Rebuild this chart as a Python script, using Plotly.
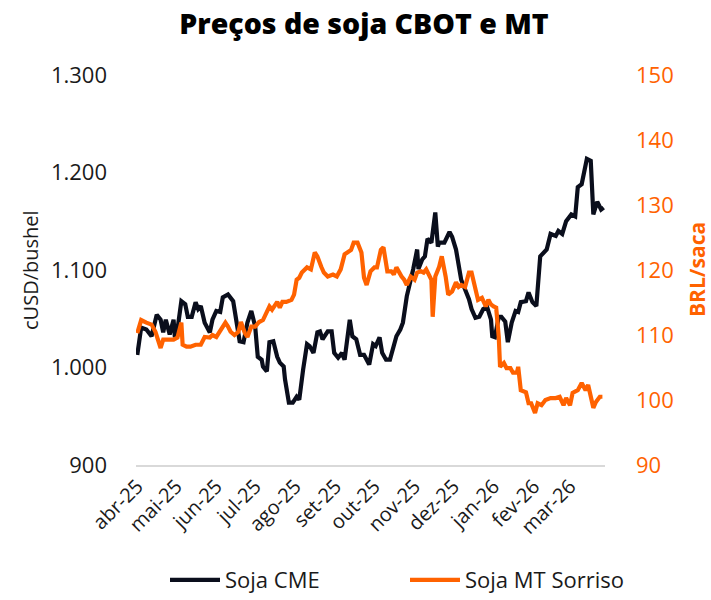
import plotly.graph_objects as go

# ---- data ----
cme_dates = [
    "2025-04-01","2025-04-04","2025-04-08","2025-04-12","2025-04-16","2025-04-19","2025-04-21","2025-04-23",
    "2025-04-26","2025-04-29","2025-04-30","2025-05-02","2025-05-05","2025-05-08","2025-05-10","2025-05-13",
    "2025-05-16","2025-05-18","2025-05-20","2025-05-23","2025-05-27","2025-05-29","2025-06-01","2025-06-04",
    "2025-06-06","2025-06-10","2025-06-14","2025-06-16","2025-06-19","2025-06-22","2025-06-25","2025-06-28",
    "2025-07-01","2025-07-03","2025-07-06","2025-07-07","2025-07-10","2025-07-12","2025-07-15","2025-07-18",
    "2025-07-20","2025-07-23","2025-07-24","2025-07-27","2025-07-30","2025-08-02","2025-08-04","2025-08-07",
    "2025-08-10","2025-08-12","2025-08-15","2025-08-18","2025-08-20","2025-08-22","2025-08-26","2025-08-29",
    "2025-08-31","2025-09-03","2025-09-06","2025-09-08","2025-09-12","2025-09-14","2025-09-17","2025-09-20",
    "2025-09-23","2025-09-27","2025-09-30","2025-10-02","2025-10-05","2025-10-07","2025-10-10","2025-10-13",
    "2025-10-15","2025-10-18","2025-10-21","2025-10-23","2025-10-26","2025-10-28","2025-10-31","2025-11-03",
    "2025-11-04","2025-11-07","2025-11-09","2025-11-11","2025-11-14","2025-11-17","2025-11-19","2025-11-20",
    "2025-11-24","2025-11-28","2025-11-30","2025-12-03","2025-12-05","2025-12-07","2025-12-10","2025-12-13",
    "2025-12-15","2025-12-18","2025-12-21","2025-12-24","2025-12-27","2025-12-30","2025-12-31","2026-01-02",
    "2026-01-05","2026-01-07","2026-01-10","2026-01-12","2026-01-15","2026-01-18","2026-01-20","2026-01-22",
    "2026-01-26","2026-01-28","2026-01-31","2026-02-03","2026-02-06","2026-02-09","2026-02-11","2026-02-14",
    "2026-02-18","2026-02-20","2026-02-23","2026-02-26","2026-03-02","2026-03-05","2026-03-07","2026-03-10",
    "2026-03-14","2026-03-17","2026-03-19","2026-03-22","2026-03-25","2026-03-27",
]
cme_values = [
    1013,1041,1039,1032,1054,1049,1036,1049,
    1034,1049,1031,1039,1068,1065,1052,1052,
    1067,1060,1063,1046,1036,1049,1058,1057,
    1072,1075,1068,1052,1027,1026,1046,1058,
    1042,1011,1008,1001,996,1026,1027,1011,
    1005,1001,988,964,964,970,967,998,
    1024,1022,1015,1036,1037,1029,1037,1037,
    1015,1010,1015,1008,1049,1032,1029,1013,
    1013,1003,1024,1022,1031,1015,1008,1008,
    1018,1032,1039,1046,1073,1083,1101,1121,
    1101,1111,1114,1132,1128,1159,1124,1128,
    1128,1139,1134,1121,1104,1090,1080,1070,
    1060,1051,1052,1060,1062,1049,1032,1031,
    1052,1052,1047,1026,1046,1058,1057,1067,
    1068,1077,1067,1063,1114,1118,1121,1137,
    1135,1140,1137,1150,1157,1155,1185,1188,
    1214,1212,1157,1170,1162,1164,
]

mt_dates = [
    "2025-04-01","2025-04-04","2025-04-08","2025-04-12","2025-04-15","2025-04-17","2025-04-19","2025-04-21",
    "2025-04-25","2025-04-29","2025-05-02","2025-05-05","2025-05-06","2025-05-09","2025-05-12","2025-05-16",
    "2025-05-20","2025-05-23","2025-05-27","2025-05-29","2025-06-01","2025-06-05","2025-06-08","2025-06-10",
    "2025-06-12","2025-06-15","2025-06-18","2025-06-20","2025-06-23","2025-06-25","2025-06-28","2025-07-01",
    "2025-07-04","2025-07-07","2025-07-10","2025-07-12","2025-07-14","2025-07-18","2025-07-20","2025-07-22",
    "2025-07-25","2025-07-29","2025-07-31","2025-08-02","2025-08-04","2025-08-06","2025-08-10","2025-08-13",
    "2025-08-16","2025-08-18","2025-08-21","2025-08-23","2025-08-26","2025-08-30","2025-09-02","2025-09-05",
    "2025-09-08","2025-09-10","2025-09-13","2025-09-15","2025-09-18","2025-09-21","2025-09-23","2025-09-25",
    "2025-09-28","2025-10-01","2025-10-03","2025-10-06","2025-10-08","2025-10-11","2025-10-14","2025-10-16",
    "2025-10-18","2025-10-22","2025-10-24","2025-10-26","2025-10-29","2025-11-01","2025-11-03","2025-11-06",
    "2025-11-08","2025-11-10","2025-11-14","2025-11-15","2025-11-17","2025-11-20","2025-11-22","2025-11-25",
    "2025-11-27","2025-11-30","2025-12-03","2025-12-05","2025-12-07","2025-12-10","2025-12-13","2025-12-15",
    "2025-12-18","2025-12-20","2025-12-23","2025-12-26","2025-12-28","2025-12-30","2026-01-01","2026-01-03",
    "2026-01-05","2026-01-06","2026-01-09","2026-01-11","2026-01-14","2026-01-16","2026-01-19","2026-01-20",
    "2026-01-22","2026-01-26","2026-01-28","2026-01-30","2026-02-02","2026-02-04","2026-02-07","2026-02-10",
    "2026-02-14","2026-02-18","2026-02-21","2026-02-24","2026-02-26","2026-03-01","2026-03-03","2026-03-07",
    "2026-03-10","2026-03-13","2026-03-15","2026-03-17","2026-03-19","2026-03-21","2026-03-24","2026-03-26",
]
mt_values = [
    110.3,112.3,111.9,111.6,110.5,109.3,108.0,109.3,
    109.3,109.3,109.6,111.9,108.5,108.2,108.2,108.5,
    108.5,109.7,109.6,110.0,109.7,110.8,111.9,111.3,
    110.5,110.0,110.5,112.0,110.3,109.7,111.3,111.3,
    112.0,112.3,113.4,114.4,113.9,115.1,114.2,115.1,
    115.1,115.4,116.2,118.5,118.8,119.6,120.4,120.1,
    122.7,122.1,120.5,119.6,119.0,119.3,119.0,120.1,
    122.4,122.7,123.1,124.2,124.2,122.7,118.8,117.7,
    119.8,120.4,120.4,123.1,123.5,119.8,119.8,119.3,
    120.4,119.0,118.5,117.7,119.0,118.5,119.6,119.8,
    119.6,120.1,118.5,112.8,119.0,120.5,122.1,119.0,
    116.2,116.7,118.1,117.4,117.7,117.4,119.6,119.6,
    117.4,115.4,115.7,114.4,115.4,114.7,114.4,114.2,
    109.7,105.1,105.7,104.9,104.9,104.2,104.2,105.1,
    101.5,101.2,99.5,99.5,98.0,99.5,99.2,100.0,
    100.3,100.3,100.5,99.2,100.3,99.2,101.1,101.5,
    102.6,101.5,102.3,100.5,98.8,99.7,100.5,100.5,
]

month_ticks = ["2025-04-01","2025-05-01","2025-06-01","2025-07-01","2025-08-01","2025-09-01",
               "2025-10-01","2025-11-01","2025-12-01","2026-01-01","2026-02-01","2026-03-01"]
month_labels = ["abr-25","mai-25","jun-25","jul-25","ago-25","set-25",
                "out-25","nov-25","dez-25","jan-26","fev-26","mar-26"]

left_ticks = [900, 1000, 1100, 1200, 1300]
right_ticks = [90, 100, 110, 120, 130, 140, 150]

BLACK = "#0a0e1c"
ORANGE = "#ff6200"
TEXT = "#1a1a1a"
FONT = "'Open Sans', 'Noto Sans', sans-serif"

fig = go.Figure()
fig.add_trace(go.Scatter(x=cme_dates, y=cme_values, name="Soja CME", mode="lines",
                         line=dict(color=BLACK, width=4.2), yaxis="y", legend="legend"))
fig.add_trace(go.Scatter(x=mt_dates, y=mt_values, name="Soja MT Sorriso", mode="lines",
                         line=dict(color=ORANGE, width=4.2), yaxis="y2", legend="legend2"))

legend_common = dict(orientation="h", xanchor="left", yanchor="middle", xref="container",
                     yref="container", y=1 - 580 / 600, itemwidth=50,
                     font=dict(size=22, color=TEXT), bgcolor="rgba(0,0,0,0)")

fig.update_layout(
    width=711, height=600,
    margin=dict(l=136, r=106, t=75, b=135, autoexpand=False),
    paper_bgcolor="white", plot_bgcolor="white",
    separators=",.",
    font=dict(family=FONT, color=TEXT),
    title=dict(text="Preços de soja CBOT e MT", x=364 / 711, xanchor="center", xref="container",
               y=1 - 24 / 600, yanchor="middle", yref="container",
               font=dict(family=FONT, size=28.5, color="#000000", weight=800)),
    xaxis=dict(range=["2025-03-31", "2026-03-28"], tickvals=month_ticks, ticktext=month_labels,
               tickangle=-45, tickfont=dict(size=20, color=TEXT), showgrid=False,
               showline=True, linecolor="#d9d9d9", linewidth=1.5, ticks="", zeroline=False,
               automargin=False),
    yaxis=dict(range=[900, 1300], tickvals=left_ticks, tickformat=",d", showgrid=False,
               zeroline=False, showline=False, ticks="", tickfont=dict(size=22, color=TEXT),
               ticklabelstandoff=28, automargin=False),
    yaxis2=dict(range=[90, 150], tickvals=right_ticks, overlaying="y", side="right",
                showgrid=False, zeroline=False, showline=False, ticks="",
                tickfont=dict(size=22, color=ORANGE), ticklabelstandoff=30, automargin=False),
    legend=dict(legend_common, x=165 / 711),
    legend2=dict(legend_common, x=405 / 711),
    showlegend=True,
)

fig.add_annotation(text="cUSD/bushel", textangle=-90, xref="x domain", x=(30 - 136) / 469,
                   yref="y domain", y=0.5, showarrow=False,
                   font=dict(size=20, color=TEXT), xanchor="center", yanchor="middle")
fig.add_annotation(text="<b>BRL/saca</b>", textangle=-90, xref="x domain", x=(697 - 136) / 469,
                   yref="y domain", y=0.5, showarrow=False,
                   font=dict(size=21, color=ORANGE), xanchor="center", yanchor="middle")

fig.write_html("out.html", config={"displayModeBar": False},
               post_script="document.body.style.margin='0';document.body.style.padding='0';")
